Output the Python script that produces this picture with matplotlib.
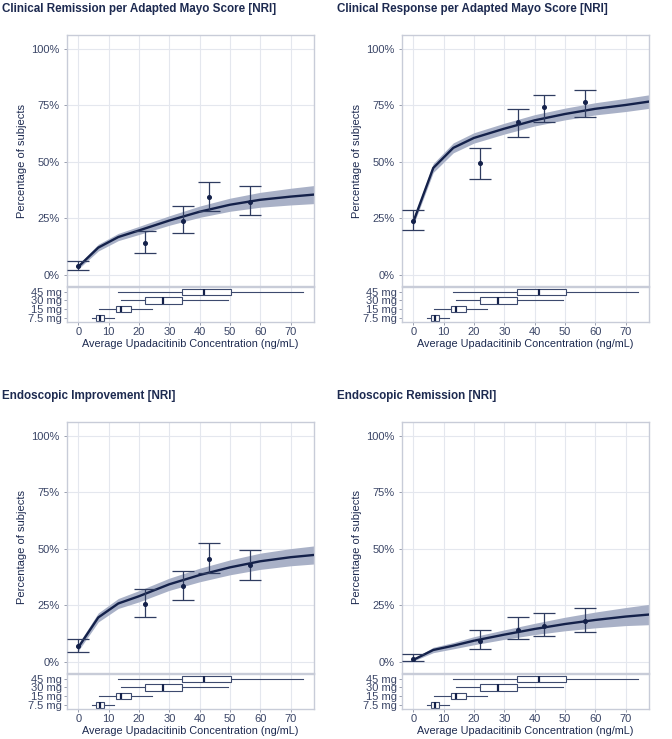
import matplotlib
matplotlib.use("Agg")
import matplotlib.pyplot as plt
from matplotlib.ticker import PercentFormatter

plt.rcParams['font.family'] = ['Liberation Sans', 'DejaVu Sans']

W, H = 672, 739

titles = [
    "Clinical Remission per Adapted Mayo Score [NRI]",
    "Clinical Response per Adapted Mayo Score [NRI]",
    "Endoscopic Improvement [NRI]",
    "Endoscopic Remission [NRI]",
]

# observed response (%) with 95% CI per exposure bin
obs_conc = [0, 22.0, 34.5, 43.0, 56.5]
obs_pct = [
    [3.7, 13.9, 24.0, 34.4, 32.3],
    [24.0, 49.4, 67.7, 74.2, 76.4],
    [6.9, 25.5, 33.5, 45.6, 42.8],
    [1.0, 9.2, 14.1, 15.8, 18.0],
]
obs_lo = [
    [2.2, 9.6, 18.7, 28.3, 26.4],
    [19.9, 42.6, 60.9, 67.5, 69.9],
    [4.5, 20.0, 27.3, 39.4, 36.2],
    [0.2, 5.7, 9.9, 11.2, 13.3],
]
obs_hi = [
    [6.2, 19.2, 30.4, 41.2, 39.1],
    [28.8, 56.2, 73.6, 79.6, 81.7],
    [10.0, 32.0, 40.3, 52.5, 49.6],
    [3.2, 14.0, 19.7, 21.4, 23.8],
]

# model prediction (%) and half-width of its band
curve_conc = [0, 6.6, 13.2, 20, 30, 40, 50, 60, 70, 77.7]
curve_pct = [
    [3.5, 12.0, 16.7, 19.6, 24.0, 27.9, 31.0, 33.2, 34.6, 35.5],
    [23.3, 47.3, 56.2, 60.6, 64.7, 68.4, 71.2, 73.5, 75.2, 76.7],
    [6.3, 19.6, 25.8, 29.0, 34.3, 38.4, 41.8, 44.5, 46.3, 47.3],
    [0.8, 5.2, 7.1, 9.3, 12.0, 14.5, 16.7, 18.5, 20.0, 20.9],
]
curve_hw = [
    [1.0, 1.5, 1.6, 1.8, 2.1, 2.5, 2.9, 3.3, 3.7, 4.0],
    [1.5, 2.0, 2.2, 2.3, 2.4, 2.5, 2.6, 2.7, 2.9, 3.0],
    [1.5, 2.0, 2.2, 2.5, 2.7, 3.0, 3.3, 3.6, 3.8, 4.0],
    [0.5, 1.2, 1.4, 1.8, 2.1, 2.5, 3.0, 3.5, 4.0, 4.5],
]

# exposure distribution per dose
doses = ['7.5 mg', '15 mg', '30 mg', '45 mg']
box_whislo = [4.6, 6.8, 14.2, 13.1]
box_q1 = [5.9, 12.3, 22.0, 34.3]
box_med = [7.1, 14.0, 27.8, 41.5]
box_q3 = [8.6, 17.4, 34.1, 50.5]
box_whishi = [11.8, 24.4, 49.3, 74.1]

NAVY = '#14214a'
BAR = '#2f3c60'
BAND = '#a9b1c7'
GRID = '#e4e7ee'
BORDER = '#c8ccd8'
TXT = '#1d2a50'
TICK = '#3a4566'


def px_axes(fig, left, top, right, bottom):
    return fig.add_axes([left / W, 1 - bottom / H, (right - left) / W, (bottom - top) / H])


def style(ax):
    for s in ax.spines.values():
        s.set_color(BORDER)
        s.set_linewidth(1.0)
    ax.tick_params(colors='#8a90a3', labelcolor=TICK, labelsize=8, length=2, width=0.6)
    ax.set_xlim(-3.7, 77.7)
    ax.set_xticks(range(0, 80, 10))
    ax.grid(True, axis='x', color=GRID, lw=0.8)
    ax.set_axisbelow(True)


fig = plt.figure(figsize=(W / 100, H / 100), dpi=100)

lefts = [67, 402]
tops = [35, 422]
stats = [dict(whislo=box_whislo[i], q1=box_q1[i], med=box_med[i], q3=box_q3[i],
              whishi=box_whishi[i], label=doses[i]) for i in range(len(doses))]

for k in range(4):
    r, c = divmod(k, 2)
    l, t = lefts[c], tops[r]
    ax = px_axes(fig, l, t, l + 247, t + 251)
    bx = px_axes(fig, l, t + 252, l + 247, t + 287)

    # main panel
    style(ax)
    ax.grid(True, axis='y', color=GRID, lw=0.8)
    y = [v / 100 for v in curve_pct[k]]
    hw = [v / 100 for v in curve_hw[k]]
    ax.fill_between(curve_conc, [a - b for a, b in zip(y, hw)], [a + b for a, b in zip(y, hw)],
                    color=BAND, lw=0, zorder=2)
    ax.plot(curve_conc, y, color=NAVY, lw=1.7, zorder=3)
    p = [v / 100 for v in obs_pct[k]]
    err = [[a - lo / 100 for a, lo in zip(p, obs_lo[k])], [hi / 100 - a for a, hi in zip(p, obs_hi[k])]]
    ax.errorbar(obs_conc, p, yerr=err, fmt='o', ms=2.6, color=BAR, mfc=NAVY, mec=NAVY,
                elinewidth=0.9, capsize=8.2, capthick=0.9, zorder=4)
    ax.set_ylim(-0.05, 1.062)
    ax.set_yticks([0, 0.25, 0.5, 0.75, 1.0])
    ax.yaxis.set_major_formatter(PercentFormatter(1.0, decimals=0))
    ax.tick_params(axis='x', length=0, labelbottom=False)
    ax.set_ylabel('Percentage of subjects', fontsize=8, color=TXT, labelpad=3)
    fig.text((l - 65) / W, 1 - (t - 26) / H, titles[k], fontsize=8.4, fontweight='bold',
             color=TXT, ha='left', va='center')

    # exposure boxplots
    style(bx)
    bx.bxp(stats, vert=False, widths=0.73, showfliers=False, showcaps=False, patch_artist=True,
           boxprops=dict(facecolor='white', edgecolor='#3d4a6e', lw=0.8),
           whiskerprops=dict(color='#3d4a6e', lw=0.8),
           medianprops=dict(color=NAVY, lw=1.6))
    bx.set_ylim(0.5, 4.54)
    bx.set_yticks([1, 2, 3, 4])
    bx.set_yticklabels(doses)
    bx.tick_params(axis='y', pad=1.5)
    bx.tick_params(axis='x', pad=1.5)
    bx.set_xlabel('Average Upadacitinib Concentration (ng/mL)', fontsize=7.8, color=TXT, labelpad=1.5)

fig.savefig('out.png', dpi=100)
